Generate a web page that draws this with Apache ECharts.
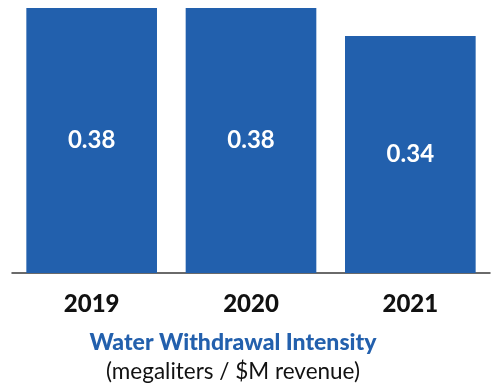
<!DOCTYPE html>
<html>
<head>
<meta charset="utf-8">
<script src="https://cdn.jsdelivr.net/npm/echarts@6/dist/echarts.min.js"></script>
<style>
  html, body { margin: 0; padding: 0; background: #ffffff; }
  #chart { width: 495px; height: 385px; }
</style>
</head>
<body>
<div id="chart"></div>
<script>
// Fiscal years and water withdrawal intensity values
const years = ['2019', '2020', '2021'];
const intensity = [0.38, 0.38, 0.34];
const titleText = 'Water Withdrawal Intensity';
const unitText = '(megaliters / $M revenue)';

const barBlue = '#2260ad';

const chart = echarts.init(document.getElementById('chart'), null, { renderer: 'canvas' });
chart.setOption({
  animation: false,
  backgroundColor: '#ffffff',
  graphic: [
    {
      type: 'text',
      style: {
        text: titleText,
        x: 233, y: 343,
        align: 'center', verticalAlign: 'middle',
        font: '900 23px Lato',
        fill: '#2360ad'
      }
    },
    {
      type: 'text',
      style: {
        text: unitText,
        x: 233, y: 372,
        align: 'center', verticalAlign: 'middle',
        font: '400 22.5px Lato',
        fill: '#111111'
      }
    }
  ],
  grid: { left: 12, right: 5, top: 8, bottom: 112, containLabel: false },
  xAxis: {
    type: 'category',
    data: years,
    axisLine: { show: true, lineStyle: { color: '#3a3a3a', width: 1.5 } },
    axisTick: { show: false },
    axisLabel: {
      margin: 19,
      fontFamily: 'Lato', fontWeight: 900, fontSize: 24, color: '#111111'
    }
  },
  yAxis: {
    type: 'value',
    min: 0,
    max: 0.38,
    show: false,
    splitLine: { show: false }
  },
  series: [{
    type: 'bar',
    data: intensity,
    barCategoryGap: '18%',
    itemStyle: { color: barBlue },
    label: {
      show: true,
      position: 'inside',
      formatter: p => p.value.toFixed(2),
      fontFamily: 'Lato', fontWeight: 'bold', fontSize: 24, color: '#ffffff'
    }
  }]
});
</script>
</body>
</html>
